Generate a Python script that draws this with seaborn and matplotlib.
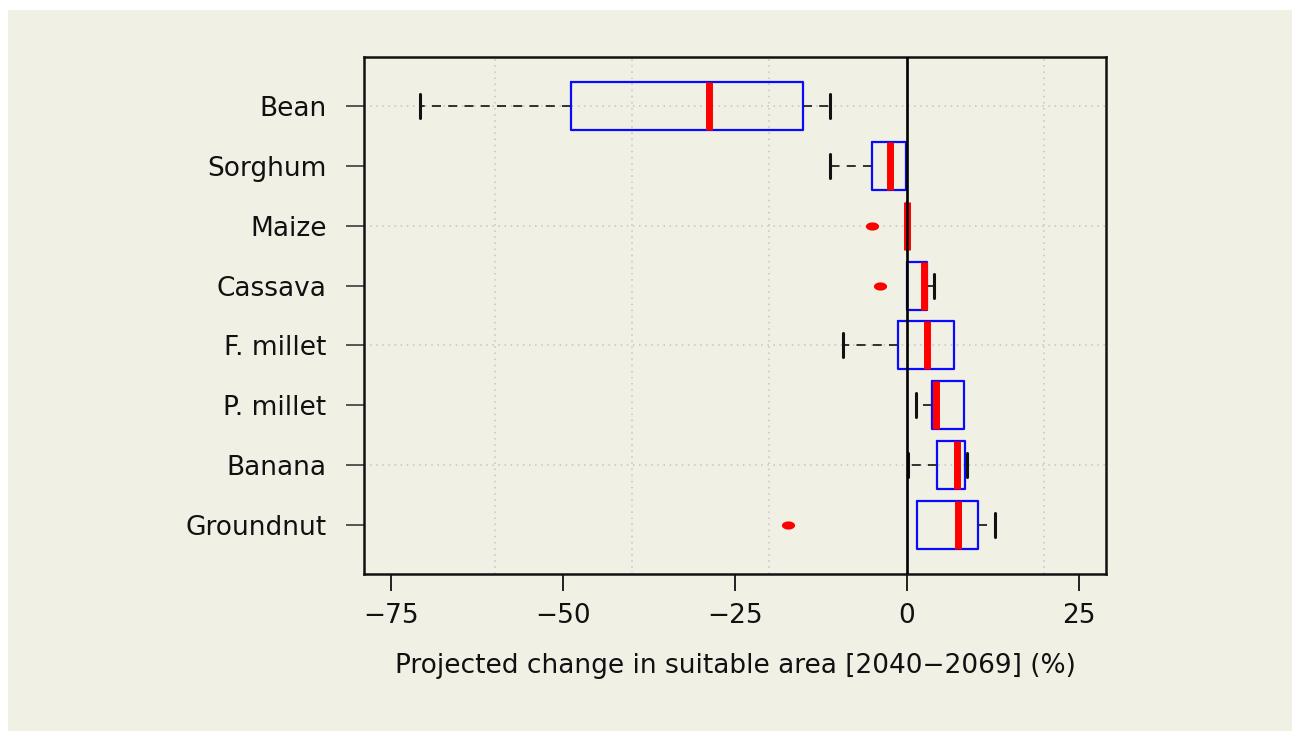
import numpy as np
import pandas as pd
import matplotlib
matplotlib.use("Agg")
import matplotlib.pyplot as plt
from matplotlib.patches import Rectangle
from matplotlib.path import Path
import seaborn as sns

# ---- data ----
crops = ["Bean", "Sorghum", "Maize", "Cassava", "F. millet", "P. millet", "Banana", "Groundnut"]
whisker_low = [-70.9, -11.2, 0.0, 0.1, -9.3, 1.3, 0.2, 1.5]
quart_1 = [-48.8, -5.1, 0.0, 0.1, -1.3, 3.7, 4.4, 1.5]
medians = [-28.8, -2.4, 0.0, 2.5, 2.9, 4.2, 7.3, 7.4]
quart_3 = [-15.1, -0.1, 0.0, 2.9, 6.9, 8.3, 8.5, 10.4]
whisker_high = [-11.1, -0.1, 0.0, 4.0, 6.9, 8.3, 8.7, 12.9]
outlier_crops = ["Maize", "Cassava", "Groundnut"]
outlier_values = [-5.0, -3.9, -17.3]
x_ticks = [-75, -50, -25, 0, 25]
x_grid = [-60, -40, -20, 0, 20]
y_grid_crops = ["Bean", "Maize", "F. millet", "Banana"]
x_label = "Projected change in suitable area [2040\u22122069] (%)"

rows = []
for c, a, b, m, d, e in zip(crops, whisker_low, quart_1, medians, quart_3, whisker_high):
    for v in (a, b, m, d, e):
        rows.append({"crop": c, "value": v})
df = pd.DataFrame(rows)

beige = "#F0F0E5"
sns.set_theme(style="ticks")
plt.rcParams["font.family"] = ["DejaVu Sans"]

W, H = 1292, 731
fig = plt.figure(figsize=(W / 100, H / 100), dpi=100)
fig.patch.set_facecolor("white")
fig.add_artist(Rectangle((8 / W, 0), 1, 1 - 10 / H, transform=fig.transFigure,
                         facecolor=beige, edgecolor="none", zorder=-10))

ax = fig.add_axes([364 / W, 1 - 574 / H, (1106 - 364) / W, (574 - 57) / H])
ax.set_facecolor(beige)

# grid
for c in y_grid_crops:
    ax.axhline(crops.index(c), color="#c4c4c4", linestyle=(0, (1, 3)), linewidth=1.1, zorder=0)
for g in x_grid:
    ax.axvline(g, color="#c4c4c4", linestyle=(0, (1, 3)), linewidth=1.1, zorder=0)

sns.boxplot(data=df, x="value", y="crop", order=crops, orient="y", fill=False,
            width=0.8, whis=(0, 100), ax=ax,
            boxprops=dict(color="#0a0aff", linewidth=1.6),
            whiskerprops=dict(color="#222222", linestyle=(0, (5, 4)), linewidth=1.3),
            capprops=dict(color="#111111", linewidth=2.2),
            medianprops=dict(color="#ff0000", linewidth=5.0))

# hide staples where the whisker has zero length (as in the reference)
cont = ax.containers[0]
caps = list(cont.caps)
for i in range(len(crops)):
    if abs(whisker_low[i] - quart_1[i]) < 1e-9:
        caps[2 * i].set_visible(False)
    if abs(whisker_high[i] - quart_3[i]) < 1e-9:
        caps[2 * i + 1].set_visible(False)

ax.axvline(0, color="black", linewidth=1.9, zorder=5)

# outliers (elliptical dots as in the reference)
t = np.linspace(0, 2 * np.pi, 60)
ell = Path(np.column_stack([np.cos(t), 0.62 * np.sin(t)]))
oy = [crops.index(c) for c in outlier_crops]
ax.plot(outlier_values, oy, linestyle="none", marker=ell, markersize=9.5,
        color="#ff0000", markeredgewidth=0, zorder=6)

ax.set_xlim(-79, 29)
ax.set_ylim(len(crops) - 1 + 0.82, -0.82)
ax.set_xticks(x_ticks)
ax.set_xticklabels([f"{v}".replace("-", "\u2212") for v in x_ticks])
ax.set_yticks(range(len(crops)))
ax.set_yticklabels(crops)
ax.set_ylabel("")
ax.set_xlabel(x_label, fontsize=19, color="#111111", labelpad=17)

ax.tick_params(axis="x", length=12, width=1.4, pad=9, labelsize=19,
               color="#222222", labelcolor="#111111")
ax.tick_params(axis="y", length=13, width=1.4, pad=14, labelsize=19,
               color="#555555", labelcolor="#111111")
for s in ax.spines.values():
    s.set_visible(True)
    s.set_linewidth(1.8)
    s.set_color("#111111")

fig.savefig("out.png", dpi=100, facecolor=fig.get_facecolor())
